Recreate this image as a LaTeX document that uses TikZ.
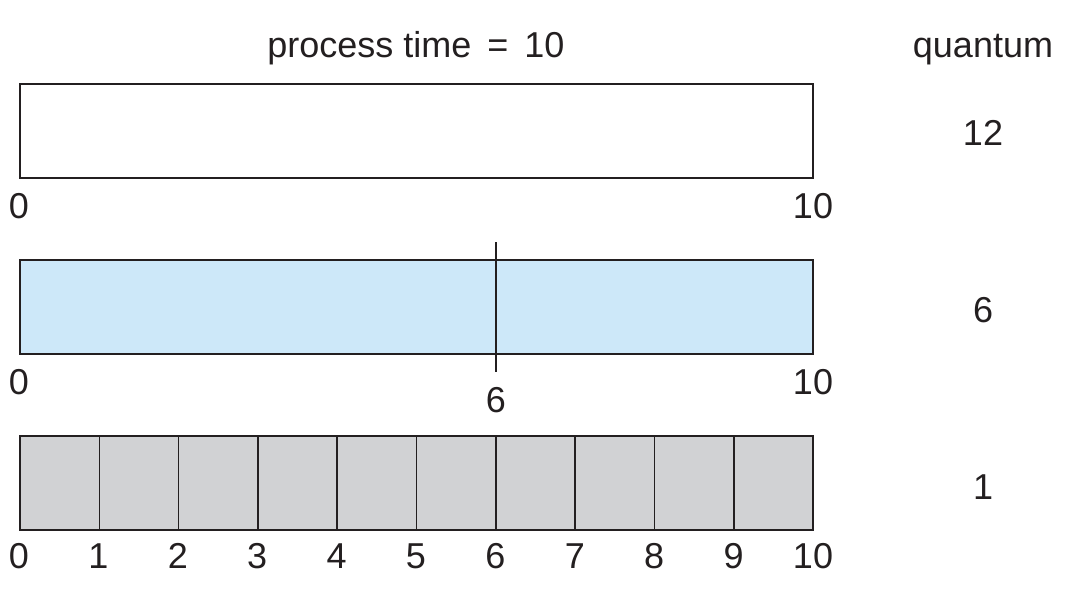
\documentclass[tikz,border=0pt]{standalone}
\usepackage{fontspec}
\setmainfont{Liberation Sans}
\definecolor{ink}{HTML}{231F20}
\definecolor{barblue}{HTML}{CDE8F9}
\definecolor{bargray}{HTML}{D1D2D4}
\begin{document}
\begin{tikzpicture}[x=1pt,y=-1pt,
  bar/.style={draw=ink,line width=1.6pt,minimum width=793pt,minimum height=94pt,inner sep=0pt,outer sep=0pt},
  lbl/.style={anchor=base,inner sep=0pt,text=ink,font=\fontsize{36}{43}\selectfont},
  divline/.style={draw=ink,line width=1.6pt}]
\useasboundingbox (0,0) rectangle (1078,592);
% titles
\node[lbl] (title) at (416,57) {process time\, = \,10};
\node[lbl] (quant) at (983,57) {quantum};
% bar 1
\node[bar,fill=white] (b1) at (416.5,131) {};
\node[lbl] (b1l) at (19,218) {0};
\node[lbl] (b1r) at (813,218) {10};
\node[lbl] (q1) at (983,145) {12};
% bar 2
\node[bar,fill=barblue] (b2) at (416.5,307) {};
\coordinate (d2t) at (496,242);
\coordinate (d2b) at (496,372);
\draw[divline] (d2t) -- (d2b);
\node[lbl] (b2l) at (19,394) {0};
\node[lbl] (b2m) at (496,412) {6};
\node[lbl] (b2r) at (813,394) {10};
\node[lbl] (q2) at (983,322) {6};
% bar 3
\node[bar,fill=bargray] (b3) at (416.5,483) {};
\foreach \k in {1,...,9}{
  \coordinate (t\k) at ({20+\k*79.3},436);
  \coordinate (u\k) at ({20+\k*79.3},530);
  \draw[divline] (t\k) -- (u\k);
}
\foreach \k in {0,...,10}{
  \node[lbl] (n\k) at ({19+\k*79.4},568) {\k};
}
\node[lbl] (q3) at (983,499) {1};
\end{tikzpicture}
\end{document}
